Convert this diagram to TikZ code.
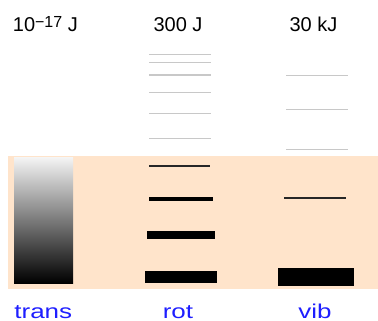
\documentclass[tikz,border=0pt]{standalone}
\usepackage{fontspec}
\setmainfont{Liberation Sans}
\definecolor{peach}{HTML}{FFE4CB}
\definecolor{levelgrey}{HTML}{C8C8C8}
\definecolor{labelblue}{HTML}{1E1EFF}
\tikzset{
  energy/.style={anchor=base, inner sep=0pt, font=\fontsize{20}{24}\selectfont},
  mode/.style={anchor=base, inner sep=0pt, text=labelblue, font=\fontsize{20}{24}\selectfont},
  faint/.style={draw=levelgrey, line width=1.5pt},
  sharp/.style={draw=black!85, line width=1.6pt},
}
\begin{document}
\begin{tikzpicture}[x=1pt, y=-1pt]
  \useasboundingbox (0,0) rectangle (378,321);
  % thermally populated band
  \fill[peach] (8,156) rectangle (378,289);

  % translational: quasi-continuum
  \shade[top color=black!4, bottom color=black] (14,157) rectangle (73,283);

  % rotational ladder
  \foreach \y in {54.3, 62.7, 75, 92.3, 113.3, 138.7}
    \draw[faint] (149,\y) -- (211,\y);
  \draw[sharp] (149,166) -- (210,166);
  \fill[black] (149,197.3) rectangle (212.7,201.3);
  \fill[black] (147,230.7) rectangle (214.7,239);
  \fill[black] (145,271) rectangle (216.7,283);

  % vibrational ladder
  \foreach \y in {75.3, 109.3, 149.3}
    \draw[faint] (286,\y) -- (347.7,\y);
  \draw[sharp] (284.3,198) -- (345.7,198);
  \fill[black] (277.7,268.3) rectangle (354,285.7);

  % level spacings
  \node[energy, anchor=base west] (etrans) at (12.7,31.7)
    {10\raisebox{4pt}{\fontsize{16}{16}\selectfont −17} J};
  \node[energy] (erot) at (178,32) {300 J};
  \node[energy] (evib) at (313.5,32) {30 kJ};

  % mode names
  \node[mode] (ltrans) at (43.3,318) {\scalebox{1.3}[1]{trans}};
  \node[mode] (lrot) at (178,318) {\scalebox{1.3}[1]{rot}};
  \node[mode] (lvib) at (315,318) {\scalebox{1.3}[1]{vib}};
\end{tikzpicture}
\end{document}
